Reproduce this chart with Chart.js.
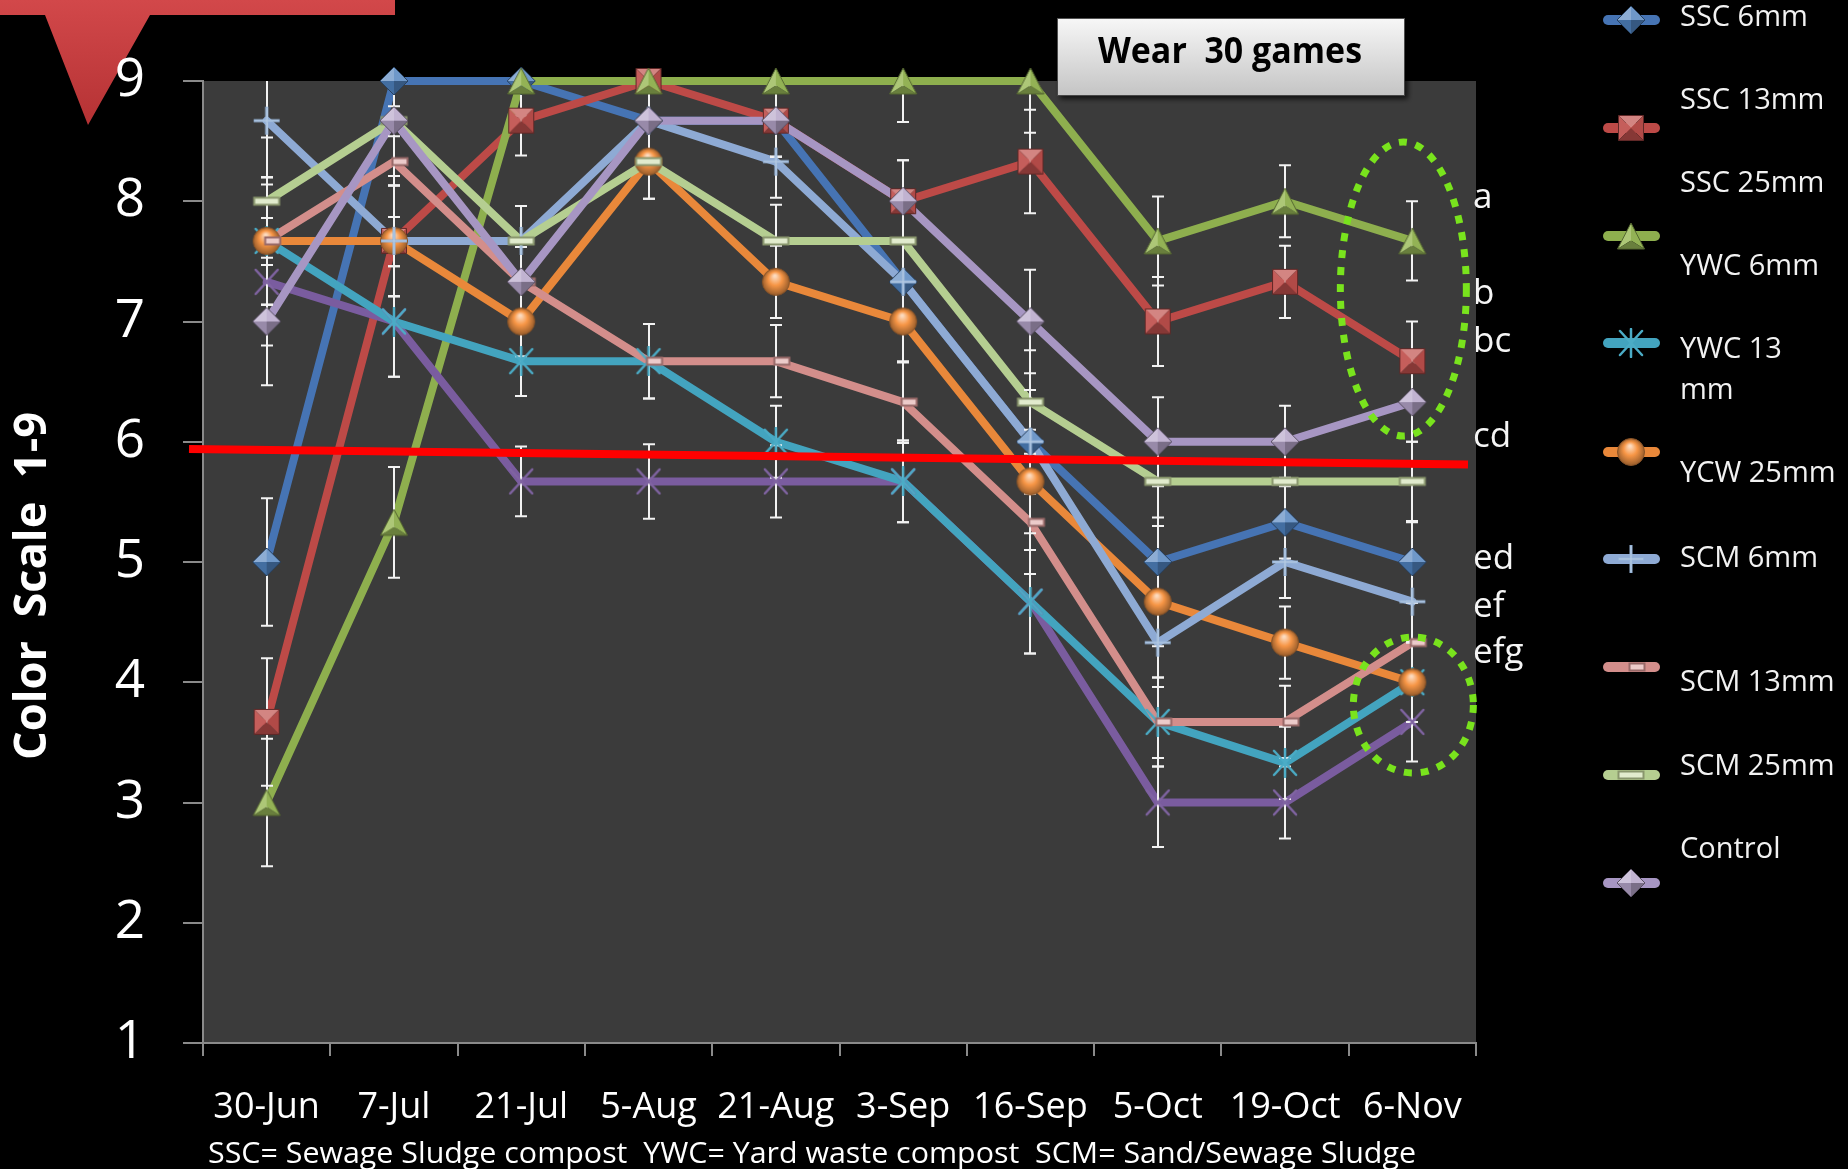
<!DOCTYPE html>
<html>
<head>
<meta charset="utf-8">
<title>Wear 30 games</title>
<script src="https://cdn.jsdelivr.net/npm/chart.js@4.4.1/dist/chart.umd.min.js"></script>
<style>
  html, body { margin: 0; padding: 0; background: #000; overflow: hidden; }
  #wrap { width: 1848px; height: 1169px; position: relative; }
  canvas { display: block; }
</style>
</head>
<body>
<div id="wrap"><canvas id="chart" width="1848" height="1169"></canvas></div>
<script>
// ---- data ---------------------------------------------------------------
const dates = ['30-Jun', '7-Jul', '21-Jul', '5-Aug', '21-Aug', '3-Sep', '16-Sep', '5-Oct', '19-Oct', '6-Nov'];

const ssc6    = [5.00, 9.00, 9.00, 8.67, 8.67, 7.33, 6.00, 5.00, 5.33, 5.00];
const ssc13   = [3.67, 7.67, 8.67, 9.00, 8.67, 8.00, 8.33, 7.00, 7.33, 6.67];
const ssc25   = [3.00, 5.33, 9.00, 9.00, 9.00, 9.00, 9.00, 7.67, 8.00, 7.67];
const ywc6    = [7.33, 7.00, 5.67, 5.67, 5.67, 5.67, 4.67, 3.00, 3.00, 3.67];
const ywc13   = [7.67, 7.00, 6.67, 6.67, 6.00, 5.67, 4.67, 3.67, 3.33, 4.00];
const ycw25   = [7.67, 7.67, 7.00, 8.33, 7.33, 7.00, 5.67, 4.67, 4.33, 4.00];
const scm6    = [8.67, 7.67, 7.67, 8.67, 8.33, 7.33, 6.00, 4.33, 5.00, 4.67];
const scm13   = [7.67, 8.33, 7.33, 6.67, 6.67, 6.33, 5.33, 3.67, 3.67, 4.33];
const scm25   = [8.00, 8.67, 7.67, 8.33, 7.67, 7.67, 6.33, 5.67, 5.67, 5.67];
const control = [7.00, 8.67, 7.33, 8.67, 8.67, 8.00, 7.00, 6.00, 6.00, 6.33];

// +/- error for every treatment on each rating date
const errorBars = [0.53, 0.46, 0.29, 0.31, 0.30, 0.34, 0.43, 0.37, 0.30, 0.33];

const seriesNames = ['SSC 6mm', 'SSC 13mm', 'SSC 25mm', 'YWC 6mm', 'YWC 13 mm',
                     'YCW 25mm', 'SCM 6mm', 'SCM 13mm', 'SCM 25mm', 'Control'];
const yTicks = [1, 2, 3, 4, 5, 6, 7, 8, 9];
const groupLetters = ['a', 'b', 'bc', 'cd', 'ed', 'ef', 'efg'];
const acceptLevel = [5.94, 5.81];   // red acceptability line, left and right end

const series = [ssc6, ssc13, ssc25, ywc6, ywc13, ycw25, scm6, scm13, scm25, control];

// ---- styles -------------------------------------------------------------
const styles = [
  { line: '#4674b4', fill: '#4f81bd', marker: 'diamond' },
  { line: '#bd4a47', fill: '#c0504d', marker: 'square' },
  { line: '#8eaf4e', fill: '#9bbb59', marker: 'triangle' },
  { line: '#7a5c9f', fill: '#8064a2', marker: 'x' },
  { line: '#43a4bf', fill: '#4bacc6', marker: 'star' },
  { line: '#e9883a', fill: '#f79646', marker: 'circle' },
  { line: '#8eaad4', fill: '#95b3d7', marker: 'plus' },
  { line: '#d38e8b', fill: '#d99694', marker: 'dash' },
  { line: '#b5ce91', fill: '#c3d69b', marker: 'bar' },
  { line: '#a796c3', fill: '#b3a2c7', marker: 'diamond' }
];
const FONT = "'Open Sans', sans-serif";
const axisGrey = '#8a8a8a';

function mix(hex, t) {
  const n = parseInt(hex.slice(1), 16);
  const ch = [n >> 16, (n >> 8) & 255, n & 255];
  const tgt = t >= 0 ? 255 : 0, k = Math.abs(t);
  const out = ch.map(v => Math.round(v + (tgt - v) * k));
  return `rgb(${out[0]},${out[1]},${out[2]})`;
}
function poly(ctx, pts, fill) {
  ctx.beginPath();
  ctx.moveTo(pts[0][0], pts[0][1]);
  for (let i = 1; i < pts.length; i++) ctx.lineTo(pts[i][0], pts[i][1]);
  ctx.closePath();
  ctx.fillStyle = fill;
  ctx.fill();
}
function outline(ctx, pts, color, w) {
  ctx.beginPath();
  ctx.moveTo(pts[0][0], pts[0][1]);
  for (let i = 1; i < pts.length; i++) ctx.lineTo(pts[i][0], pts[i][1]);
  ctx.closePath();
  ctx.strokeStyle = color;
  ctx.lineWidth = w || 1;
  ctx.stroke();
}

// Bevelled marker sprites, used both on the plot and in the key
function makeMarker(kind, col) {
  const dims = { diamond: [30, 30], square: [28, 28], triangle: [30, 30], x: [28, 28], star: [28, 30],
                 circle: [30, 30], plus: [30, 30], dash: [42, 12], bar: [30, 12] }[kind];
  const c = document.createElement('canvas');
  c.width = dims[0]; c.height = dims[1];
  const ctx = c.getContext('2d');
  const cx = dims[0] / 2, cy = dims[1] / 2;
  if (kind === 'diamond') {
    const r = 14, T = [cx, cy - r], R = [cx + r, cy], B = [cx, cy + r], L = [cx - r, cy], C = [cx, cy];
    poly(ctx, [L, T, C], mix(col, 0.35));
    poly(ctx, [T, R, C], mix(col, 0.18));
    poly(ctx, [R, B, C], mix(col, -0.32));
    poly(ctx, [B, L, C], mix(col, -0.15));
    outline(ctx, [T, R, B, L], mix(col, -0.5), 1);
  } else if (kind === 'square') {
    const a = 1.5, b = 26.5, C = [cx, cy];
    const TL = [a, a], TR = [b, a], BR = [b, b], BL = [a, b];
    poly(ctx, [TL, TR, C], mix(col, 0.3));
    poly(ctx, [TL, BL, C], mix(col, 0.08));
    poly(ctx, [TR, BR, C], mix(col, -0.08));
    poly(ctx, [BL, BR, C], mix(col, -0.3));
    outline(ctx, [TL, TR, BR, BL], mix(col, -0.5), 1);
  } else if (kind === 'triangle') {
    const A = [cx, 2], BL = [1.5, 28], BR = [28.5, 28], C = [cx, 19.5];
    poly(ctx, [A, BL, C], mix(col, 0.18));
    poly(ctx, [A, BR, C], mix(col, -0.05));
    poly(ctx, [BL, BR, C], mix(col, -0.32));
    outline(ctx, [A, BR, BL], mix(col, -0.45), 1);
  } else if (kind === 'circle') {
    const g = ctx.createRadialGradient(cx - 1, cy - 6, 1, cx, cy, 14);
    g.addColorStop(0, mix(col, 0.65));
    g.addColorStop(0.45, col);
    g.addColorStop(1, mix(col, -0.4));
    ctx.beginPath();
    ctx.arc(cx, cy, 13.5, 0, Math.PI * 2);
    ctx.fillStyle = g;
    ctx.fill();
    ctx.strokeStyle = mix(col, -0.45);
    ctx.lineWidth = 1;
    ctx.stroke();
  } else if (kind === 'x' || kind === 'star') {
    ctx.strokeStyle = col;
    ctx.lineWidth = 2.5;
    ctx.lineCap = 'round';
    ctx.beginPath();
    ctx.moveTo(cx - 11, cy - 12); ctx.lineTo(cx + 11, cy + 12);
    ctx.moveTo(cx + 11, cy - 12); ctx.lineTo(cx - 11, cy + 12);
    if (kind === 'star') { ctx.moveTo(cx, cy - 14); ctx.lineTo(cx, cy + 14); }
    ctx.stroke();
  } else if (kind === 'plus') {
    ctx.strokeStyle = col;
    ctx.lineWidth = 3;
    ctx.beginPath();
    ctx.moveTo(cx - 13, cy); ctx.lineTo(cx + 13, cy);
    ctx.moveTo(cx, cy - 14); ctx.lineTo(cx, cy + 14);
    ctx.stroke();
    ctx.strokeStyle = mix(col, 0.35);
    ctx.lineWidth = 1;
    ctx.beginPath();
    ctx.moveTo(cx - 12, cy); ctx.lineTo(cx + 12, cy);
    ctx.moveTo(cx, cy - 13); ctx.lineTo(cx, cy + 13);
    ctx.stroke();
  } else if (kind === 'dash' || kind === 'bar') {
    const w = kind === 'dash' ? 17 : 27, h = 9;
    const x0 = (kind === 'dash' ? cx + 6 : cx) - w / 2, y0 = cy - h / 2;
    ctx.fillStyle = mix(col, -0.3);
    ctx.fillRect(x0, y0, w, h);
    ctx.fillStyle = mix(col, 0.5);
    ctx.fillRect(x0 + 2, y0 + 2, w - 4, h - 4);
  }
  return c;
}
const markers = styles.map(s => makeMarker(s.marker, s.fill));

// ---- datasets -----------------------------------------------------------
const lineSets = series.map((vals, i) => ({
  label: seriesNames[i],
  data: vals,
  borderColor: styles[i].line,
  backgroundColor: styles[i].line,
  borderWidth: 8,
  borderJoinStyle: 'round',
  borderCapStyle: 'round',
  pointRadius: 0,
  tension: 0,
  fill: false,
  clip: false,
  order: 20 - i
}));
const markerSets = series.map((vals, i) => ({
  label: seriesNames[i],
  data: vals,
  showLine: false,
  pointStyle: markers[i],
  pointRadius: 14,
  clip: false,
  order: 10 - i
}));

// ---- drawing helpers ----------------------------------------------------
function fitText(ctx, text, x, y, width, align) {
  const w = ctx.measureText(text).width;
  ctx.save();
  ctx.translate(x, y);
  ctx.scale(width / w, 1);
  ctx.textAlign = align;
  ctx.fillText(text, 0, 0);
  ctx.restore();
}

const backdrop = {
  id: 'backdrop',
  beforeDraw(chart) {
    const { ctx, chartArea: a, width, height } = chart;
    ctx.save();
    ctx.fillStyle = '#000';
    ctx.fillRect(0, 0, width, height);
    // red call-out banner in the corner
    ctx.shadowColor = 'rgba(0,0,0,0.55)';
    ctx.shadowBlur = 6;
    ctx.shadowOffsetY = 2;
    const g = ctx.createLinearGradient(0, 0, 0, 125);
    g.addColorStop(0, '#d2484a');
    g.addColorStop(1, '#b53234');
    ctx.fillStyle = g;
    ctx.beginPath();
    ctx.moveTo(0, -6); ctx.lineTo(395, -6); ctx.lineTo(395, 15);
    ctx.lineTo(150, 15); ctx.lineTo(88, 125); ctx.lineTo(45, 15);
    ctx.lineTo(0, 15);
    ctx.closePath();
    ctx.fill();
    ctx.restore();
    // plot area
    ctx.fillStyle = '#3b3b3b';
    ctx.fillRect(a.left, a.top, a.right - a.left, a.bottom - a.top);
  }
};

const errorBarPlugin = {
  id: 'errorBars',
  afterDatasetDraw(chart, args) {
    if (args.index !== series.length - 1) return;   // after the last line is drawn, before markers
    const { ctx, chartArea: a, scales: { x, y } } = chart;
    ctx.save();
    ctx.beginPath();
    ctx.rect(a.left, a.top, a.right - a.left, a.bottom - a.top);
    ctx.clip();
    ctx.strokeStyle = '#f2f2f2';
    ctx.lineWidth = 2;
    series.forEach(vals => vals.forEach((v, j) => {
      const px = Math.round(x.getPixelForValue(j));
      const e = errorBars[j];
      const y1 = y.getPixelForValue(v + e), y2 = y.getPixelForValue(v - e);
      ctx.beginPath();
      ctx.moveTo(px, y1); ctx.lineTo(px, y2);
      ctx.moveTo(px - 6, y1); ctx.lineTo(px + 6, y1);
      ctx.moveTo(px - 6, y2); ctx.lineTo(px + 6, y2);
      ctx.stroke();
    }));
    ctx.restore();
  }
};

const overlay = {
  id: 'overlay',
  afterDraw(chart) {
    const { ctx, chartArea: a, scales: { x, y } } = chart;

    // acceptability line
    ctx.save();
    ctx.strokeStyle = '#ff0000';
    ctx.lineWidth = 8;
    ctx.beginPath();
    ctx.moveTo(a.left - 14, y.getPixelForValue(acceptLevel[0]));
    ctx.lineTo(a.right - 8, y.getPixelForValue(acceptLevel[1]));
    ctx.stroke();
    ctx.restore();

    // dotted rings around the last rating date
    const lastX = x.getPixelForValue(dates.length - 1);
    ctx.save();
    ctx.strokeStyle = '#79e31d';
    ctx.lineWidth = 7;
    ctx.setLineDash([8, 9]);
    ctx.beginPath();
    ctx.ellipse(lastX - 9, 289, 63, 147, 0, 0, Math.PI * 2);
    ctx.stroke();
    ctx.beginPath();
    ctx.ellipse(lastX + 1, 705, 60, 68, 0, 0, Math.PI * 2);
    ctx.stroke();
    ctx.restore();

    // mean-separation letters
    const letterBase = [208, 304, 352, 447, 569, 617, 663];
    ctx.save();
    ctx.fillStyle = '#f5f5f5';
    ctx.font = `35px ${FONT}`;
    ctx.textAlign = 'left';
    ctx.textBaseline = 'alphabetic';
    groupLetters.forEach((t, i) => ctx.fillText(t, a.right - 3, letterBase[i]));
    ctx.restore();

    // title box
    ctx.save();
    ctx.shadowColor = 'rgba(0,0,0,0.7)';
    ctx.shadowBlur = 5;
    ctx.shadowOffsetX = 3;
    ctx.shadowOffsetY = 3;
    const g = ctx.createLinearGradient(0, 18, 0, 96);
    g.addColorStop(0, '#f7f7f7');
    g.addColorStop(1, '#c4c4c4');
    ctx.fillStyle = g;
    ctx.fillRect(1057, 18, 348, 78);
    ctx.restore();
    ctx.save();
    ctx.strokeStyle = 'rgba(40,40,40,0.8)';
    ctx.lineWidth = 1;
    ctx.strokeRect(1057.5, 18.5, 347, 77);
    ctx.fillStyle = '#000';
    ctx.font = `bold 35px ${FONT}`;
    ctx.textBaseline = 'alphabetic';
    fitText(ctx, 'Wear  30 games', 1230, 63, 264, 'center');
    ctx.restore();

    // key
    const labelRows = [[17], [100], [183], [266], [349, 390], [473], [558], [682], [766], [849]];
    const labelLines = { 'YWC 13 mm': ['YWC 13', 'mm'] };
    const symbolRows = [20, 128, 236, null, 343, 452, 559, 667, 775, 883]; // YWC 6mm has no key symbol
    ctx.save();
    ctx.font = `29px ${FONT}`;
    ctx.fillStyle = '#f2f2f2';
    ctx.textAlign = 'left';
    ctx.textBaseline = 'middle';
    seriesNames.forEach((name, i) => {
      const lines = labelLines[name] || [name];
      lines.forEach((ln, k) => ctx.fillText(ln, 1680, labelRows[i][k] + 1));
      const sy = symbolRows[i];
      if (sy === null) return;
      ctx.strokeStyle = styles[i].line;
      ctx.lineWidth = 10;
      ctx.lineCap = 'round';
      ctx.beginPath();
      ctx.moveTo(1608, sy);
      ctx.lineTo(1655, sy);
      ctx.stroke();
      const m = markers[i];
      ctx.drawImage(m, 1631 - m.width / 2, sy - m.height / 2);
    });
    ctx.restore();

    // value-axis title
    ctx.save();
    ctx.translate(33, 586);
    ctx.rotate(-Math.PI / 2);
    ctx.fillStyle = '#ffffff';
    ctx.font = `bold 44px ${FONT}`;
    ctx.textBaseline = 'middle';
    fitText(ctx, 'Color  Scale  1-9', 0, 0, 348, 'center');
    ctx.restore();

    // abbreviations note
    ctx.save();
    ctx.fillStyle = '#ffffff';
    ctx.font = `29px ${FONT}`;
    ctx.textBaseline = 'alphabetic';
    fitText(ctx, 'SSC= Sewage Sludge compost  YWC= Yard waste compost  SCM= Sand/Sewage Sludge', 208, 1163, 1208, 'left');
    ctx.restore();
  }
};

// ---- chart --------------------------------------------------------------
new Chart(document.getElementById('chart'), {
  type: 'line',
  data: { labels: dates, datasets: [...lineSets, ...markerSets] },
  options: {
    responsive: false,
    animation: false,
    devicePixelRatio: 1,
    events: [],
    layout: { padding: { top: 81, right: 372, bottom: 0, left: 0 } },
    plugins: {
      legend: { display: false },
      tooltip: { enabled: false },
      title: { display: false }
    },
    scales: {
      x: {
        type: 'category',
        offset: true,
        grid: { offset: true, drawOnChartArea: false, drawTicks: true, tickLength: 13, color: axisGrey, lineWidth: 2 },
        border: { display: true, color: axisGrey, width: 2 },
        ticks: { color: '#ffffff', font: { family: FONT, size: 36 }, padding: 30, maxRotation: 0, autoSkip: false },
        afterFit(s) { s.height = 126; }
      },
      y: {
        min: 1,
        max: 9,
        afterBuildTicks(s) { s.ticks = yTicks.map(v => ({ value: v })); },
        grid: { drawOnChartArea: false, drawTicks: true, tickLength: 20, color: axisGrey, lineWidth: 2 },
        border: { display: true, color: axisGrey, width: 2 },
        ticks: { color: '#ffffff', font: { family: FONT, size: 53 }, padding: 38 },
        afterFit(s) { s.width = 203; }
      }
    }
  },
  plugins: [backdrop, errorBarPlugin, overlay]
});
</script>
</body>
</html>
